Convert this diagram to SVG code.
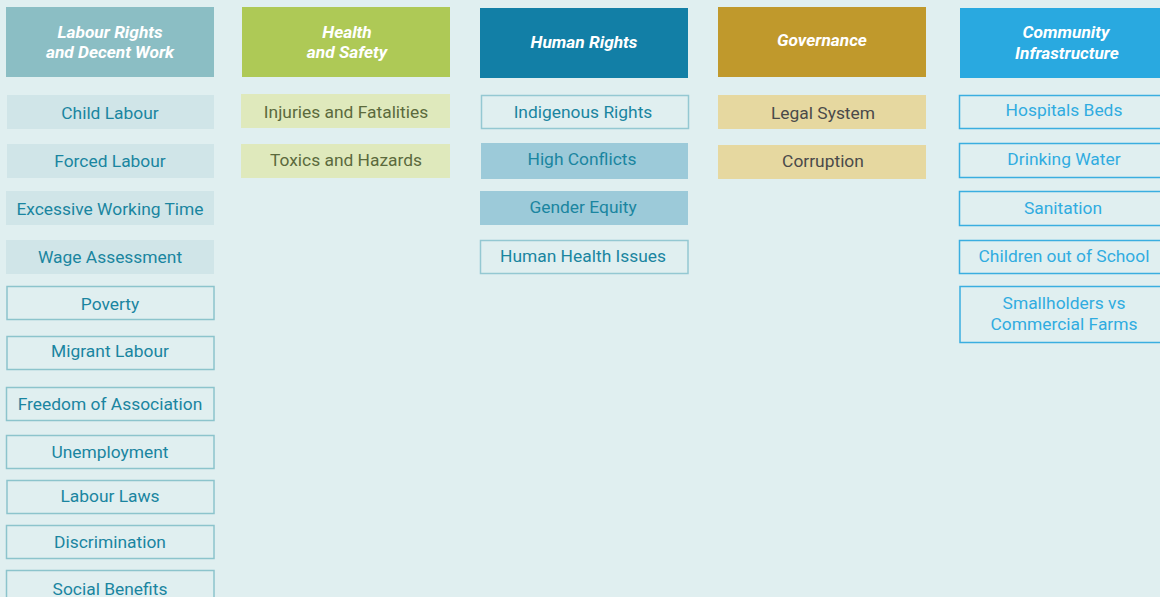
<svg xmlns="http://www.w3.org/2000/svg" width="1160" height="597" viewBox="0 0 1160 597">
<style>
.h{font-family:Roboto,"Liberation Sans",sans-serif;font-size:17.3px;font-weight:bold;font-style:italic;fill:#fff;text-anchor:middle}
.t{font-family:Roboto,"Liberation Sans",sans-serif;font-size:17.4px;text-anchor:middle}
.lf{fill:#d0e5e8}
.lo{fill:none;stroke:#8cc4cc;stroke-width:1.5}
.lt{fill:#1a85a0}
.hf{fill:#dfe9bc}
.ht{fill:#5b6a3c}
.rf{fill:#9ccad9}
.ro{fill:none;stroke:#94c8d2;stroke-width:1.5}
.rt{fill:#1a85a0}
.gf{fill:#e6d8a0}
.gt{fill:#4a4a4a}
.co{fill:none;stroke:#3aaee0;stroke-width:1.5}
.ct{fill:#30ace0}
</style>
<rect width="1160" height="597" fill="#e0eff0"/>
<g id="labour">
<g id="labour-header"><rect x="6" y="7" width="208" height="70" fill="#8bbec4"/><text class="h" x="110" y="38">Labour Rights</text><text class="h" x="110" y="58">and Decent Work</text></g>
<g id="child-labour"><rect class="lf" x="7" y="95" width="207" height="34"/><text class="t lt" x="110" y="119">Child Labour</text></g>
<g id="forced-labour"><rect class="lf" x="7" y="144" width="207" height="34"/><text class="t lt" x="110" y="167">Forced Labour</text></g>
<g id="excessive"><rect class="lf" x="6" y="191" width="208" height="34"/><text class="t lt" x="110" y="215">Excessive Working Time</text></g>
<g id="wage"><rect class="lf" x="6" y="240" width="208" height="34"/><text class="t lt" x="110" y="263">Wage Assessment</text></g>
<g id="poverty"><rect class="lo" x="7" y="286.5" width="207" height="33"/><text class="t lt" x="110" y="310">Poverty</text></g>
<g id="migrant"><rect class="lo" x="7" y="336.5" width="207" height="33"/><text class="t lt" x="110" y="357">Migrant Labour</text></g>
<g id="freedom"><rect class="lo" x="6.5" y="387.5" width="207.5" height="33"/><text class="t lt" x="110" y="410">Freedom of Association</text></g>
<g id="unemployment"><rect class="lo" x="6.5" y="435.5" width="207.5" height="33"/><text class="t lt" x="110" y="458">Unemployment</text></g>
<g id="labour-laws"><rect class="lo" x="7" y="480.5" width="207" height="33"/><text class="t lt" x="110" y="502">Labour Laws</text></g>
<g id="discrimination"><rect class="lo" x="6.5" y="525.5" width="207.5" height="33"/><text class="t lt" x="110" y="548">Discrimination</text></g>
<g id="social"><rect class="lo" x="6.5" y="570.5" width="207.5" height="33"/><text class="t lt" x="110" y="595">Social Benefits</text></g>
</g>
<g id="health">
<g id="health-header"><rect x="242" y="7" width="208" height="70" fill="#aec956"/><text class="h" x="347" y="38">Health</text><text class="h" x="347" y="58">and Safety</text></g>
<g id="injuries"><rect class="hf" x="241" y="94" width="209" height="34"/><text class="t ht" x="346" y="118">Injuries and Fatalities</text></g>
<g id="toxics"><rect class="hf" x="241" y="144" width="209" height="34"/><text class="t ht" x="346" y="166">Toxics and Hazards</text></g>
</g>
<g id="human">
<g id="human-header"><rect x="480" y="8" width="208" height="70" fill="#127fa6"/><text class="h" x="584" y="48">Human Rights</text></g>
<g id="indigenous"><rect class="ro" x="481.5" y="95.5" width="207" height="33"/><text class="t rt" x="583" y="118">Indigenous Rights</text></g>
<g id="conflicts"><rect class="rf" x="481" y="143" width="207" height="36"/><text class="t rt" x="582" y="165">High Conflicts</text></g>
<g id="gender"><rect class="rf" x="480" y="191" width="208" height="34"/><text class="t rt" x="583" y="213">Gender Equity</text></g>
<g id="health-issues"><rect class="ro" x="480.5" y="240.5" width="207.5" height="33"/><text class="t rt" x="583" y="262">Human Health Issues</text></g>
</g>
<g id="governance">
<g id="gov-header"><rect x="718" y="7" width="208" height="70" fill="#c0992c"/><text class="h" x="822" y="46">Governance</text></g>
<g id="legal"><rect class="gf" x="718" y="95" width="208" height="34"/><text class="t gt" x="823" y="119">Legal System</text></g>
<g id="corruption"><rect class="gf" x="718" y="145" width="208" height="34"/><text class="t gt" x="823" y="167">Corruption</text></g>
</g>
<g id="community">
<g id="com-header"><rect x="960" y="8" width="205" height="70" fill="#29a9e0"/><text class="h" x="1066" y="38">Community</text><text class="h" x="1067" y="59">Infrastructure</text></g>
<g id="hospitals"><rect class="co" x="959.5" y="95.5" width="210" height="33"/><text class="t ct" x="1064" y="116">Hospitals Beds</text></g>
<g id="water"><rect class="co" x="959.5" y="143.5" width="210" height="34"/><text class="t ct" x="1064" y="165">Drinking Water</text></g>
<g id="sanitation"><rect class="co" x="959.5" y="191.5" width="210" height="34"/><text class="t ct" x="1063" y="214">Sanitation</text></g>
<g id="children"><rect class="co" x="959.5" y="240.5" width="210" height="33"/><text class="t ct" x="1064" y="262">Children out of School</text></g>
<g id="smallholders"><rect class="co" x="960" y="286.5" width="210" height="56"/><text class="t ct" x="1064" y="309">Smallholders vs</text><text class="t ct" x="1064" y="330">Commercial Farms</text></g>
</g>
</svg>
